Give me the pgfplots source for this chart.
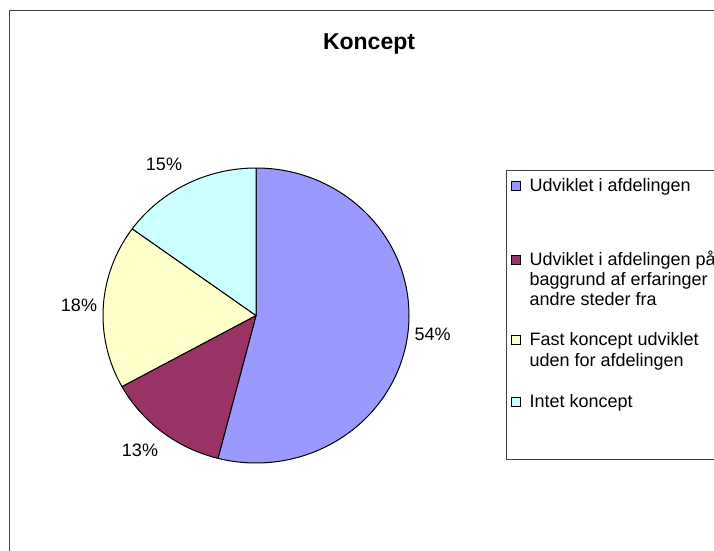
\documentclass[border=0pt]{standalone}
\usepackage{pgfplots}
\pgfplotsset{compat=1.18}
\usepackage{pgfplotstable}
\usepackage{fontspec}
\setmainfont{Liberation Sans}
\definecolor{sliceA}{HTML}{9999FF}
\definecolor{sliceB}{HTML}{993366}
\definecolor{sliceC}{HTML}{FFFFCC}
\definecolor{sliceD}{HTML}{CCFFFF}
\tikzset{lbl/.style={font=\fontsize{18bp}{20bp}\selectfont, inner sep=0pt}}

% shares in percent, clockwise from 12 o'clock
\pgfplotstableread{
share col
54 sliceA
13 sliceB
18 sliceC
15 sliceD
}\piedata

\begin{document}
\begin{tikzpicture}
\path[use as bounding box, clip] (0,0) rectangle (714bp,551bp);
\begin{axis}[
  at={(0,0)}, anchor=south west,
  width=714bp, height=551bp, scale only axis,
  xmin=0, xmax=714, ymin=0, ymax=551,
  y dir=reverse,
  hide axis, clip=false,
]
% chart frame
\draw[black!75, line width=1bp] (axis cs:9.5,580) -- (axis cs:9.5,10.5) -- (axis cs:740,10.5);

\node[anchor=base, inner sep=0pt, font=\fontsize{23bp}{26bp}\selectfont\bfseries] at (axis cs:369,49.3) {Koncept};

% pie slices
\pgfplotstablegetrowsof{\piedata}
\pgfmathtruncatemacro\lastrow{\pgfplotsretval-1}
\def\cum{0}
\pgfplotsforeachungrouped \i in {0,...,\lastrow}{
  \pgfplotstablegetelem{\i}{share}\of\piedata \let\sv\pgfplotsretval
  \pgfplotstablegetelem{\i}{col}\of\piedata \let\slicecol\pgfplotsretval
  \pgfmathsetmacro\sa{90-3.6*\cum}
  \pgfmathsetmacro\sb{90-3.6*(\cum+\sv)}
  \edef\tmp{\noexpand\filldraw[fill=\slicecol, draw=black, line width=1bp, line join=round]
    (axis cs:256,315.5) -- ++(\sa:153bp and 147.5bp)
    arc[start angle=\sa, end angle=\sb, x radius=153bp, y radius=147.5bp] -- cycle;}
  \tmp
  \pgfmathsetmacro\cum{\cum+\sv}
}

% data labels
\node[lbl, anchor=base] at (axis cs:432.7,340.7) {54\%};
\node[lbl, anchor=base] at (axis cs:140,456.7) {13\%};
\node[lbl, anchor=base] at (axis cs:79,311.7) {18\%};
\node[lbl, anchor=base] at (axis cs:164,170.7) {15\%};

% legend
\draw[black!75, line width=1bp] (axis cs:740,170.7) -- (axis cs:506,170.7) -- (axis cs:506,459.3) -- (axis cs:740,459.3);
\draw[fill=sliceA, line width=0.8bp] (axis cs:511.5,181.5) rectangle (axis cs:520.5,190.5);
\draw[fill=sliceB, line width=0.8bp] (axis cs:511.5,255) rectangle (axis cs:520.5,264);
\draw[fill=sliceC, line width=0.8bp] (axis cs:511.5,335.5) rectangle (axis cs:520.5,344.5);
\draw[fill=sliceD, line width=0.8bp] (axis cs:511.5,397.5) rectangle (axis cs:520.5,406.5);
\node[lbl, anchor=base west] at (axis cs:529.3,191.7) {Udviklet i afdelingen};
\node[lbl, anchor=base west] at (axis cs:529.3,265) {Udviklet i afdelingen på};
\node[lbl, anchor=base west] at (axis cs:529.3,285.3) {baggrund af erfaringer};
\node[lbl, anchor=base west] at (axis cs:529.3,305.6) {andre steder fra};
\node[lbl, anchor=base west] at (axis cs:529.3,345.7) {Fast koncept udviklet};
\node[lbl, anchor=base west] at (axis cs:529.3,366) {uden for afdelingen};
\node[lbl, anchor=base west] at (axis cs:529.3,407.3) {Intet koncept};
\end{axis}
\end{tikzpicture}
\end{document}
